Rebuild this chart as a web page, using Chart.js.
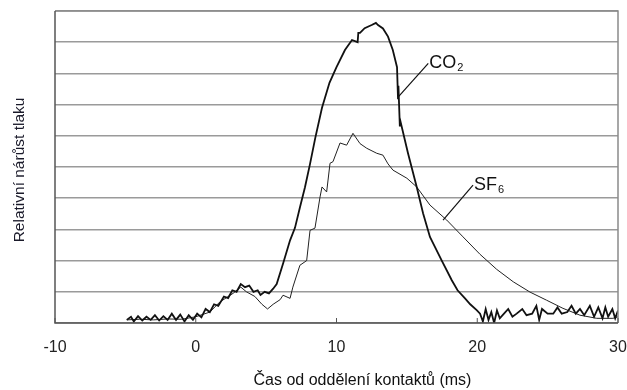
<!DOCTYPE html>
<html>
<head>
<meta charset="utf-8">
<script src="https://cdn.jsdelivr.net/npm/chart.js@4"></script>
<style>
    html, body { margin: 0; padding: 0; background: #fff; }
    #wrap { width: 627px; height: 390px; }
</style>
</head>
<body>
<div id="wrap"><canvas id="pressureChart"></canvas></div>
<script>
// časová osa (ms) a relativní nárůst tlaku
const co2Time = [
    -4.9, -4.6, -4.4, -4.1, -3.8, -3.5, -3.2, -2.9, -2.6, -2.3, -2.0, -1.7, -1.4, -1.1, -0.8, -0.5, -0.2,
    0.1, 0.4, 0.7, 1.0, 1.3, 1.6, 2.0, 2.3, 2.6, 2.9, 3.2, 3.5, 3.8, 4.1, 4.4, 4.6, 4.9, 5.2, 5.5, 5.75,
    6.2, 6.7, 7.05, 7.4, 7.76, 8.12, 8.5, 8.97, 9.5, 10.0, 10.6, 11.1, 11.5, 11.55, 11.67, 12.0,
    12.5, 12.8, 12.95, 13.3, 13.66, 14.0, 14.3, 14.37, 14.4, 14.5, 14.55, 15.08, 15.7, 16.15, 16.64,
    17.47, 18.19, 18.6, 19.13, 19.5, 19.96,
    20.2, 20.4, 20.6, 20.8, 21.0, 21.2, 21.4, 21.6, 21.9, 22.2, 22.5, 22.8, 23.2, 23.5, 23.9, 24.2,
    24.4, 24.6, 25.0, 25.4, 25.7, 26.0, 26.4, 26.7, 27.0, 27.3, 27.6, 28.0, 28.3, 28.6, 28.9, 29.1,
    29.3, 29.6, 29.8, 30.0
];
const co2Pressure = [
    0.1, 0.2, 0.05, 0.22, 0.08, 0.2, 0.1, 0.25, 0.08, 0.22, 0.1, 0.3, 0.1, 0.27, 0.05, 0.25, 0.1,
    0.3, 0.18, 0.45, 0.35, 0.6, 0.55, 0.85, 0.8, 1.05, 1.0, 1.25, 1.15, 1.2, 1.0, 1.05, 0.9, 1.0, 0.95, 1.1, 1.25,
    1.9, 2.65, 3.05, 3.7, 4.35, 5.1, 5.95, 6.9, 7.7, 8.2, 8.75, 9.07, 9.0, 9.3, 9.3, 9.45,
    9.55, 9.62, 9.55, 9.44, 9.18, 8.75, 8.2, 7.2, 7.6, 6.3, 6.45, 5.44, 4.36, 3.52, 2.76,
    2.01, 1.37, 1.05, 0.79, 0.6, 0.41,
    0.3, 0.05, 0.45, 0.1, 0.35, 0.0, 0.4, 0.15, 0.3, 0.45, 0.2, 0.3, 0.45, 0.25, 0.3, 0.55,
    0.1, 0.45, 0.3, 0.3, 0.5, 0.3, 0.35, 0.55, 0.3, 0.45, 0.25, 0.55, 0.2, 0.5, 0.15, 0.5,
    0.2, 0.45, 0.15, 0.4
];

const sf6Time = [
    -4.9, -4.0, -3.0, -2.0, -1.0, 0.0, 1.0, 1.7, 2.65, 3.2, 3.6, 4.2, 4.7, 5.1, 5.5, 6.0, 6.2, 6.7,
    6.9, 7.4, 7.88, 8.12, 8.47, 8.83, 8.97, 9.3, 9.54, 9.75, 10.25, 10.72, 11.17, 11.67, 12.15,
    12.86, 13.3, 13.66, 14.01, 15.0, 15.7, 16.64, 17.83, 18.99, 20.2, 21.38, 22.56, 23.75, 24.93,
    26.09, 27.3, 28.49, 29.64, 30.0
];
const sf6Pressure = [
    0.1, 0.12, 0.1, 0.13, 0.12, 0.2, 0.35, 0.67, 0.95, 1.15, 1.0, 0.85, 0.6, 0.45, 0.6, 0.75, 0.89, 0.79,
    1.15, 1.85, 2.0, 2.97, 3.04, 4.04, 4.36, 4.2, 5.12, 5.17, 5.77, 5.7, 6.08, 5.75, 5.6,
    5.44, 5.38, 5.1, 4.9, 4.64, 4.36, 3.78, 3.3, 2.76, 2.2, 1.72, 1.32, 0.99, 0.73,
    0.47, 0.25, 0.15, 0.15, 0.2
];

const xTicks = [-10, 0, 10, 20, 30];

// popisky křivek: [x, y] konce odkazové čáry
const labels = [
    { main: 'CO', sub: '2', from: [14.39, 7.25], to: [16.52, 8.32] },
    { main: 'SF', sub: '6', from: [17.57, 3.30], to: [19.70, 4.42] }
];

const FONT = '"Liberation Sans", Arial, sans-serif';

const toPoints = (xs, ys) => xs.map((x, i) => ({ x: x, y: ys[i] }));

/**
 * Rámeček, popisky os a popisky křivek
 */
const decorPlugin = {
    id: 'decor',
    afterDraw(chart) {
        const { ctx, chartArea: a, scales } = chart;
        const xs = scales.x, ys = scales.y;
        ctx.save();

        // rámeček
        ctx.strokeStyle = '#8a8a8a';
        ctx.lineWidth = 1.5;
        ctx.beginPath();
        ctx.moveTo(a.left, a.top);
        ctx.lineTo(a.right, a.top);
        ctx.lineTo(a.right, a.bottom);
        ctx.stroke();
        ctx.strokeStyle = '#555';
        ctx.beginPath();
        ctx.moveTo(a.left, a.top);
        ctx.lineTo(a.left, a.bottom);
        ctx.lineTo(a.right, a.bottom);
        ctx.stroke();

        // malé značky na ose x
        ctx.lineWidth = 1;
        xTicks.forEach(t => {
            const px = xs.getPixelForValue(t);
            ctx.beginPath();
            ctx.moveTo(px, a.bottom);
            ctx.lineTo(px, a.bottom - 5);
            ctx.stroke();
        });

        // popisky křivek
        ctx.strokeStyle = '#111';
        ctx.fillStyle = '#111';
        ctx.lineWidth = 1.2;
        labels.forEach(l => {
            const x1 = xs.getPixelForValue(l.from[0]), y1 = ys.getPixelForValue(l.from[1]);
            const x2 = xs.getPixelForValue(l.to[0]), y2 = ys.getPixelForValue(l.to[1]);
            ctx.beginPath();
            ctx.moveTo(x1, y1);
            ctx.lineTo(x2, y2);
            ctx.stroke();
            ctx.font = '18px ' + FONT;
            ctx.textBaseline = 'alphabetic';
            ctx.textAlign = 'left';
            ctx.fillText(l.main, x2 + 1, y2 + 5);
            const w = ctx.measureText(l.main).width;
            ctx.font = '11px ' + FONT;
            ctx.fillText(l.sub, x2 + 2 + w, y2 + 8);
        });

        // název osy x
        ctx.fillStyle = '#111';
        ctx.font = '16px ' + FONT;
        ctx.textAlign = 'center';
        ctx.textBaseline = 'middle';
        ctx.fillText('Čas od oddělení kontaktů (ms)', (a.left + a.right) / 2 + 26, 381);

        // název osy y
        ctx.translate(20, (a.top + a.bottom) / 2 + 3);
        ctx.rotate(-Math.PI / 2);
        ctx.font = '15.5px ' + FONT;
        ctx.fillStyle = '#1a1a2a';
        ctx.fillText('Relativní nárůst tlaku', 0, 0);
        ctx.restore();
    }
};

new Chart(document.getElementById('pressureChart'), {
    type: 'line',
    data: {
        datasets: [
            {
                label: 'CO2',
                data: toPoints(co2Time, co2Pressure),
                borderColor: '#111',
                borderWidth: 1.8,
                pointRadius: 0,
                tension: 0
            },
            {
                label: 'SF6',
                data: toPoints(sf6Time, sf6Pressure),
                borderColor: '#222',
                borderWidth: 1,
                pointRadius: 0,
                tension: 0
            }
        ]
    },
    options: {
        responsive: true,
        maintainAspectRatio: false,
        animation: false,
        layout: { padding: { top: 11, right: 9, left: 0, bottom: 0 } },
        plugins: {
            legend: { display: false },
            tooltip: { enabled: false }
        },
        scales: {
            x: {
                type: 'linear',
                min: -10,
                max: 30,
                afterBuildTicks: scale => { scale.ticks = xTicks.map(v => ({ value: v })); },
                afterFit: scale => {
                    scale.height = 67;
                    scale.paddingLeft = 0;
                    scale.paddingRight = 0;
                },
                grid: { drawOnChartArea: false, drawTicks: false },
                border: { display: false },
                ticks: {
                    padding: 15,
                    color: '#222',
                    font: { family: FONT, size: 16 },
                    maxRotation: 0
                }
            },
            y: {
                min: 0,
                max: 10,
                afterFit: scale => { scale.width = 55; },
                ticks: { display: false, stepSize: 1 },
                grid: { color: '#9a9a9a', lineWidth: 1.5, drawTicks: false },
                border: { display: false }
            }
        }
    },
    plugins: [decorPlugin]
});
</script>
</body>
</html>
